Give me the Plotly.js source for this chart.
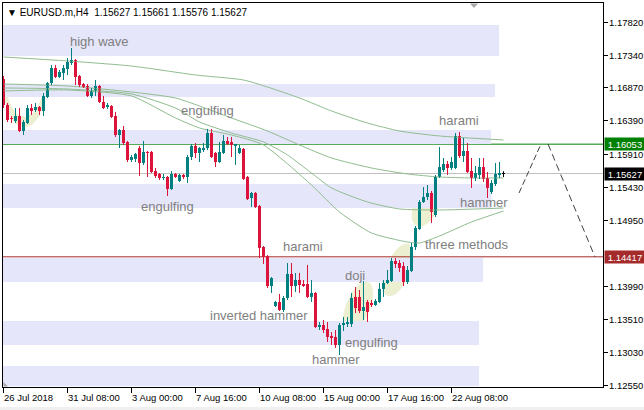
<!DOCTYPE html>
<html><head><meta charset="utf-8">
<script src="https://cdn.plot.ly/plotly-3.0.1.min.js"></script>
<style>html,body{margin:0;padding:0;background:#fff;}#chart{width:644px;height:410px;}</style>
</head><body><div id="chart"></div>
<script>
const symbol = "EURUSD.m,H4";
const open = [1.17000,1.16622,1.16433,1.16390,1.16462,1.16244,1.16360,1.16578,1.16549,1.16593,
1.16535,1.16738,1.16941,1.17159,1.17029,1.17087,1.17145,1.17232,1.17275,1.17043,
1.16927,1.16898,1.16753,1.16825,1.16898,1.16666,1.16593,1.16607,1.16462,1.16186,
1.16259,1.16085,1.15823,1.15838,1.15997,1.15780,1.15939,1.15939,1.15663,1.15620,
1.15562,1.15576,1.15402,1.15620,1.15518,1.15605,1.15576,1.15867,1.16027,1.15925,
1.15968,1.15997,1.16215,1.15925,1.15794,1.15925,1.16099,1.16085,1.16027,1.15925,
1.15983,1.15576,1.15271,1.15344,1.15155,1.14560,1.14429,1.13993,1.13703,1.13761,
1.13645,1.13819,1.14168,1.13993,1.14080,1.14022,1.14022,1.13834,1.13892,1.13398,
1.13427,1.13369,1.13267,1.13253,1.13136,1.13427,1.13441,1.13441,1.13834,1.13834,
1.13630,1.13761,1.13746,1.13717,1.13761,1.13950,1.14037,1.14066,1.14356,1.14327,
1.14284,1.14051,1.14211,1.14560,1.14821,1.15213,1.15286,1.15344,1.15024,1.15576,
1.15678,1.15765,1.15707,1.15707,1.16172,1.15881,1.15954,1.15663,1.15562,1.15605,
1.15721,1.15562,1.15358,1.15475,1.15605,1.15627];
const high = [1.17043,1.16651,1.16462,1.16578,1.16578,1.16404,1.16622,1.16636,1.16651,1.16607,
1.16796,1.16956,1.17203,1.17203,1.17130,1.17203,1.17305,1.17450,1.17290,1.17058,
1.16941,1.16927,1.16869,1.16985,1.16912,1.16753,1.16651,1.16622,1.16520,1.16273,
1.16317,1.16099,1.15896,1.15925,1.16027,1.16099,1.15954,1.15954,1.15707,1.15634,
1.15620,1.15591,1.15663,1.15634,1.15620,1.15620,1.15896,1.16056,1.16070,1.16012,
1.16070,1.16273,1.16273,1.15939,1.16085,1.16186,1.16157,1.16157,1.16056,1.16041,
1.15997,1.15591,1.15358,1.15358,1.15170,1.14574,1.14443,1.14124,1.13775,1.13877,
1.13848,1.14327,1.14327,1.14182,1.14182,1.14080,1.14298,1.14080,1.13906,1.13470,
1.13499,1.13470,1.13325,1.13354,1.13456,1.13543,1.13543,1.13892,1.13979,1.13935,
1.14066,1.13790,1.13790,1.13804,1.14037,1.14080,1.14226,1.14400,1.14400,1.14371,
1.14342,1.14284,1.14618,1.14865,1.15242,1.15431,1.15460,1.15373,1.15605,1.16012,
1.15852,1.15809,1.15867,1.16215,1.16230,1.16143,1.16070,1.15852,1.15736,1.15852,
1.15852,1.15649,1.15533,1.15780,1.15794,1.15661];
const low = [1.16578,1.16375,1.16360,1.16360,1.16230,1.16186,1.16346,1.16477,1.16520,1.16477,
1.16462,1.16724,1.16912,1.17014,1.17014,1.16985,1.17058,1.17203,1.16912,1.16883,
1.16869,1.16738,1.16724,1.16753,1.16651,1.16564,1.16564,1.16433,1.16157,1.15997,
1.16041,1.15794,1.15794,1.15794,1.15591,1.15751,1.15576,1.15634,1.15562,1.15533,
1.15533,1.15300,1.15387,1.15562,1.15504,1.15547,1.15489,1.15823,1.15852,1.15794,
1.15939,1.15968,1.15852,1.15721,1.15780,1.15910,1.16041,1.15867,1.15751,1.15910,
1.15533,1.15242,1.15141,1.15126,1.14400,1.14313,1.13964,1.13892,1.13688,1.13630,
1.13616,1.13790,1.13834,1.13906,1.13892,1.13979,1.13819,1.13761,1.13383,1.13354,
1.13311,1.13180,1.13136,1.13093,1.12991,1.13340,1.13398,1.13398,1.13601,1.13601,
1.13499,1.13470,1.13688,1.13703,1.13746,1.13834,1.14022,1.14051,1.14255,1.14197,
1.13993,1.14022,1.14197,1.14516,1.14807,1.15199,1.15242,1.14908,1.14995,1.15562,
1.15649,1.15605,1.15678,1.15692,1.15852,1.15794,1.15634,1.15417,1.15518,1.15547,
1.15504,1.15271,1.15329,1.15446,1.15562,1.15576];
const close = [1.16622,1.16404,1.16419,1.16462,1.16244,1.16375,1.16578,1.16535,1.16593,1.16535,
1.16753,1.16941,1.17159,1.17029,1.17101,1.17159,1.17246,1.17275,1.17029,1.16912,
1.16883,1.16753,1.16825,1.16898,1.16666,1.16578,1.16622,1.16448,1.16186,1.16259,
1.16070,1.15823,1.15867,1.15910,1.15780,1.15939,1.15925,1.15649,1.15591,1.15562,
1.15576,1.15402,1.15620,1.15576,1.15605,1.15576,1.15867,1.16027,1.15925,1.15997,
1.15997,1.16215,1.15867,1.15794,1.15939,1.16099,1.16056,1.16041,1.16056,1.15997,
1.15547,1.15257,1.15344,1.15141,1.14545,1.14414,1.13993,1.14109,1.13761,1.13645,
1.13819,1.14168,1.13993,1.14080,1.14008,1.13993,1.13834,1.13892,1.13398,1.13427,
1.13354,1.13253,1.13238,1.13136,1.13427,1.13456,1.13470,1.13819,1.13674,1.13630,
1.13688,1.13616,1.13717,1.13775,1.13950,1.14037,1.14080,1.14356,1.14313,1.14255,
1.14051,1.14226,1.14560,1.14836,1.15213,1.15286,1.15344,1.15068,1.15576,1.15721,
1.15765,1.15707,1.15794,1.16172,1.15881,1.15954,1.15649,1.15562,1.15634,1.15721,
1.15547,1.15417,1.15489,1.15620,1.15634,1.15627];

const xTickIdx = [0,16,32,48,64,80,96,112];
const xTickText = ["26 Jul 2018","31 Jul 08:00","3 Aug 00:00","7 Aug 16:00","10 Aug 08:00","15 Aug 00:00","17 Aug 16:00","22 Aug 08:00"];
const yTickVals = [1.17820,1.17340,1.16870,1.16390,1.15910,1.15430,1.14950,1.13990,1.13510,1.13030,1.12550];

const ma1Idx = [0,16,32,48,60,66,74,82,91,99,109,125];
const ma1 = [1.17319,1.17261,1.17188,1.17058,1.16985,1.16883,1.16724,1.16535,1.16360,1.16244,1.16172,1.16114];
const ma2Idx = [0,16,32,43,49,57,66,74,82,92,101,109,117,125];
const ma2 = [1.16927,1.16898,1.16811,1.16724,1.16607,1.16433,1.16244,1.16041,1.15852,1.15707,1.15620,1.15576,1.15562,1.15562];
const ma3Idx = [0,16,32,43,49,57,65,71,77,82,91,99,109,125];
const ma3 = [1.16869,1.16854,1.16782,1.16578,1.16375,1.16215,1.16085,1.15896,1.15634,1.15417,1.15213,1.15112,1.15097,1.15126];
const ma4Idx = [0,16,32,43,49,57,65,77,84,92,101,104,109,117,125];
const ma4 = [1.16825,1.16840,1.16753,1.16433,1.16288,1.16186,1.16041,1.15460,1.15068,1.14763,1.14632,1.14618,1.14719,1.14923,1.15082];

const levelPrices = [1.16053, 1.15627, 1.14417];
const levelColors = ["#008000", "#c0c0c0", "#a52a2a"];
const levelTagColors = ["#008000", "#000000", "#a52a2a"];

const patternText = ["high wave","engulfing","engulfing","harami","harami","hammer","three methods","doji","inverted hammer","engulfing","hammer"];
const patternIdx = [23.9,51.1,41.1,74.9,113.9,120.1,115.9,87.9,63.9,92.1,83.1];
const patternPrice = [1.17537,1.16535,1.15141,1.14560,1.16404,1.15213,1.14603,1.14153,1.13558,1.13180,1.12933];

const zoneTop = [1.17784,1.16927,1.16259,1.15475,1.14400,1.13485,1.12832];
const zoneBottom = [1.17334,1.16738,1.16056,1.15126,1.14051,1.13136,1.12541];
const zoneEndIdx = [123.9,122.9,121.9,121.9,119.9,118.9,118.9];

// ---- build ----
const X_RANGE = [-0.125, 149.875];
const Y_RANGE = [1.125264, 1.181032];
const BULL = "#008080", BEAR = "#dc143c", DOJI = "#000000";
const MINB = 0.00015;
const FONT = 'Liberation Sans, Arial, sans-serif';

const bull = {x:[],base:[],y:[]}, bear = {x:[],base:[],y:[]}, doji = {x:[],base:[],y:[]};
const wB = {x:[],y:[]}, wR = {x:[],y:[]}, wD = {x:[],y:[]};
for (let i=0;i<open.length;i++){
  const o=open[i], c=close[i];
  let tgt, w;
  if (c>o){tgt=bull;w=wB;} else if (c<o){tgt=bear;w=wR;} else {tgt=doji;w=wD;}
  const lo=Math.min(o,c), hi=Math.max(o,c);
  let h=hi-lo, b=lo;
  if (h<MINB){b=(hi+lo)/2-MINB/2;h=MINB;}
  tgt.x.push(i);tgt.base.push(b);tgt.y.push(h);
  w.x.push(i,i,null);w.y.push(low[i],high[i],null);
}
const traces=[];
function maTrace(ix,v){return {type:'scatter',mode:'lines',x:ix,y:v,line:{color:'#8fbc8f',width:1,shape:'spline',smoothing:0.6},hoverinfo:'skip',showlegend:false};}
traces.push(maTrace(ma1Idx,ma1),maTrace(ma2Idx,ma2),maTrace(ma3Idx,ma3),maTrace(ma4Idx,ma4));
function wick(w,col){return {type:'scatter',mode:'lines',x:w.x,y:w.y,line:{color:col,width:1},hoverinfo:'skip',showlegend:false,connectgaps:false};}
traces.push(wick(wB,BULL),wick(wR,BEAR),wick(wD,DOJI));
function body(d,col){return {type:'bar',x:d.x,y:d.y,base:d.base,width:0.75,marker:{color:col,line:{width:0}},hoverinfo:'skip',showlegend:false};}
traces.push(body(bull,BULL),body(bear,BEAR),body(doji,DOJI));

// pixel helpers for drawn objects
const PX=x=>(x-3)/600, PY=y=>(387-y)/384;
function ellipsePath(cx,cy,a,b,deg){
  const r=deg*Math.PI/180, pts=[];
  for(let k=0;k<60;k++){const t=2*Math.PI*k/60;const ex=a*Math.cos(t),ey=b*Math.sin(t);
    const x=cx+ex*Math.cos(r)-ey*Math.sin(r), y=cy+ex*Math.sin(r)+ey*Math.cos(r);
    pts.push(PX(x).toFixed(5)+','+PY(y).toFixed(5));}
  return 'M'+pts.join('L')+'Z';
}
function polyPath(p){return 'M'+p.map(q=>PX(q[0]).toFixed(5)+','+PY(q[1]).toFixed(5)).join('L')+'Z';}
const ELL='#ecf0d0';
const shapes=[];
for(let k=0;k<zoneTop.length;k++){
  shapes.push({type:'rect',xref:'x',yref:'y',x0:X_RANGE[0],x1:zoneEndIdx[k],y0:zoneBottom[k],y1:zoneTop[k],fillcolor:'#e6e6fa',line:{width:0},layer:'below'});
}
shapes.push({type:'path',xref:'paper',yref:'paper',path:polyPath([[4,96],[6,106],[10,116],[16,124],[24,128],[32,125],[38,118],[43,107],[46,95],[42,96],[38,106],[32,114],[25,117],[17,114],[11,106],[8,97]]),fillcolor:ELL,line:{width:0},layer:'below'});
shapes.push({type:'path',xref:'paper',yref:'paper',path:ellipsePath(358,307,27,12,-68),fillcolor:ELL,line:{width:0},layer:'below'});
shapes.push({type:'path',xref:'paper',yref:'paper',path:ellipsePath(398,270,28,12,-68),fillcolor:ELL,line:{width:0},layer:'below'});
shapes.push({type:'path',xref:'paper',yref:'paper',path:ellipsePath(426,206,22,12,-65),fillcolor:ELL,line:{width:0},layer:'below'});
for(let k=0;k<levelPrices.length;k++){
  shapes.push({type:'line',xref:'paper',yref:'y',x0:0,x1:1,y0:levelPrices[k],y1:levelPrices[k],line:{color:levelColors[k],width:1},layer:'below'});
}
shapes.push({type:'path',xref:'paper',yref:'paper',path:'M'+PX(519)+','+PY(193)+'L'+PX(541)+','+PY(144),line:{color:'#404040',width:1,dash:'6px,3px'}});
shapes.push({type:'path',xref:'paper',yref:'paper',path:'M'+PX(548)+','+PY(144)+'L'+PX(595)+','+PY(257),line:{color:'#404040',width:1,dash:'7px,4px'}});
shapes.push({type:'path',xref:'paper',yref:'paper',path:polyPath([[470,3.5],[478,3.5],[474,8]]),fillcolor:'#a8a8a8',line:{width:0}});
shapes.push({type:'path',xref:'paper',yref:'paper',path:polyPath([[3.5,382],[3.5,386.5],[8,386.5]]),fillcolor:'#a8a8a8',line:{width:0}});
shapes.push({type:'rect',xref:'paper',yref:'paper',x0:-0.01,x1:1.1,y0:PY(410),y1:PY(407),fillcolor:'#f0f0f0',line:{width:0}});

const annotations=[];
for(let k=0;k<patternText.length;k++){
  annotations.push({x:patternIdx[k],y:patternPrice[k],xref:'x',yref:'y',text:patternText[k],showarrow:false,xanchor:'center',yanchor:'middle',font:{family:FONT,size:13,color:'#808080'}});
}
for(let k=0;k<xTickIdx.length;k++){
  annotations.push({x:xTickIdx[k],y:PY(397),xref:'x',yref:'paper',text:xTickText[k],showarrow:false,xanchor:'left',yanchor:'middle',xshift:-2,font:{family:FONT,size:9.5,color:'#000'}});
}
for(let k=0;k<yTickVals.length;k++){
  annotations.push({x:1,y:yTickVals[k],xref:'paper',yref:'y',xanchor:'left',yanchor:'middle',xshift:4,text:yTickVals[k].toFixed(5),showarrow:false,font:{family:FONT,size:9.5,color:'#000'}});
}
for(let k=0;k<levelPrices.length;k++){
  annotations.push({x:1,y:levelPrices[k],xref:'paper',yref:'y',xanchor:'left',yanchor:'middle',xshift:1,text:levelPrices[k].toFixed(5),showarrow:false,bgcolor:levelTagColors[k],width:40,height:12,borderpad:0,align:'center',font:{family:FONT,size:9.5,color:'#fff'}});
}
const last=open.length-1;
annotations.push({x:PX(5),y:PY(12),xref:'paper',yref:'paper',xanchor:'left',yanchor:'middle',showarrow:false,
  text:'\u25BC '+symbol+'  '+[open[last],high[last],low[last],close[last]].map(v=>v.toFixed(5)).join(' '),
  font:{family:FONT,size:10,color:'#000'}});

const layout={
  width:644,height:410,margin:{l:3,r:41,t:3,b:23,pad:0},
  paper_bgcolor:'#fff',plot_bgcolor:'#fff',showlegend:false,barmode:'overlay',
  xaxis:{range:X_RANGE,showgrid:false,zeroline:false,showline:true,mirror:true,linecolor:'#000',linewidth:1,
    ticks:'outside',tickvals:xTickIdx,ticklen:5,tickcolor:'#000',tickwidth:1,showticklabels:false,fixedrange:true},
  yaxis:{range:Y_RANGE,side:'right',showgrid:false,zeroline:false,showline:true,mirror:true,linecolor:'#000',linewidth:1,
    ticks:'outside',tickvals:yTickVals,ticklen:4,tickcolor:'#000',showticklabels:false,fixedrange:true},
  shapes:shapes,annotations:annotations
};
Plotly.newPlot('chart',traces,layout,{staticPlot:true,displayModeBar:false});
</script></body></html>
